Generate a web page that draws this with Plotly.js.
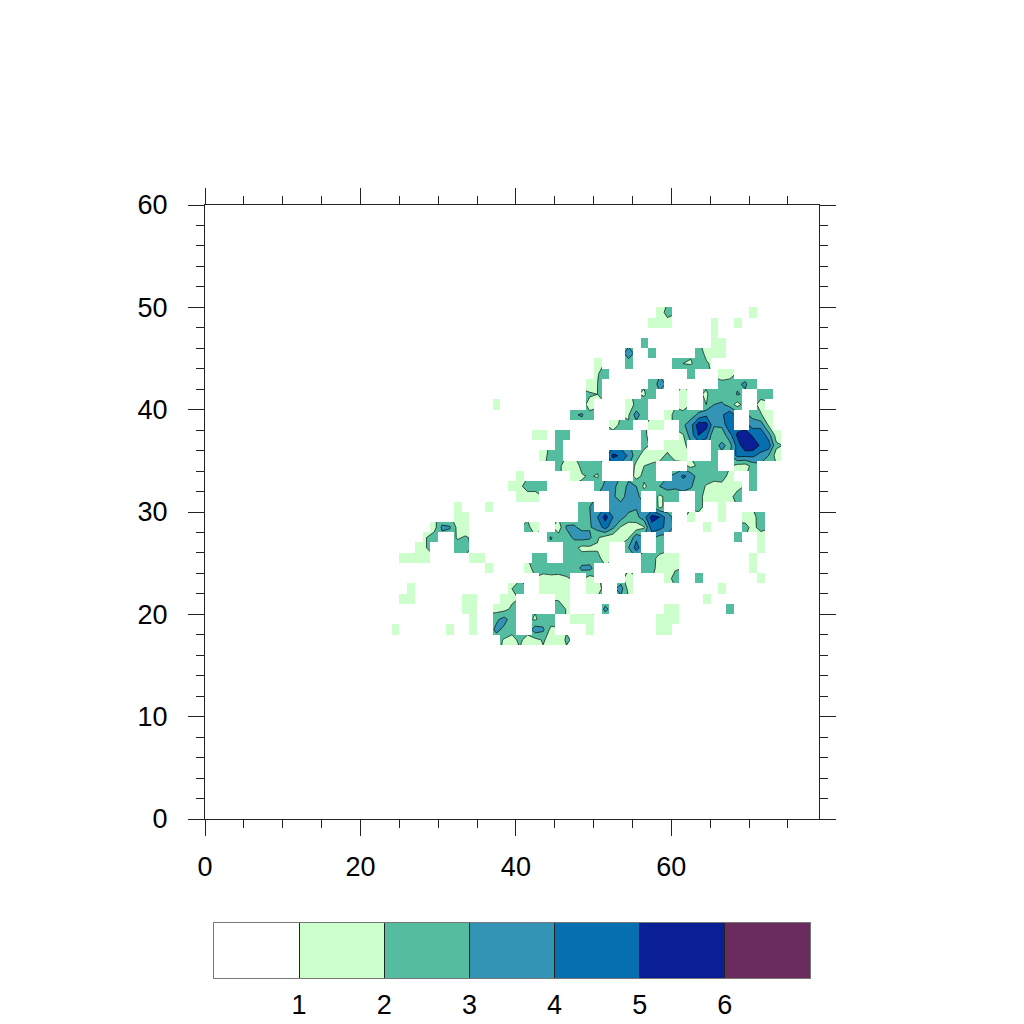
<!DOCTYPE html>
<html><head><meta charset="utf-8">
<script src="https://cdn.plot.ly/plotly-3.0.1.min.js"></script>
<style>html,body{margin:0;padding:0;background:#fff}#p{width:1024px;height:1024px}</style>
</head><body><div id="p"></div>
<script>
// value read per grid cell: {column: value}; absent = missing data
const row49={58:1.6,59:2.3,70:1.4};
const row48={57:1.4,58:1.7,59:1.7,65:1.4,68:1.4};
const row47={65:1.4};
const row46={56:2.8,65:1.9,66:1.4};
const row45={54:3.4,57:2.0,63:2.4,64:1.8,65:1.6,66:1.4};
const row44={50:1.4,54:2.6,60:3.0,61:2.0,62:1.9,63:2.4,64:2.1};
const row43={50:1.9,51:2.6,62:2.9,66:1.5,67:1.5};
const row42={49:1.6,50:2.0,57:2.0,58:3.6,66:2.3,67:2.5,68:2.8,69:3.2,70:2.2};
const row41={49:2.1,50:2.0,56:1.9,57:2.5,61:1.4,64:1.9,65:2.4,66:2.4,67:2.4,68:3.1,71:2.3,72:2.4};
const row40={37:1.4,49:1.7,54:1.6,55:2.2,56:2.4,61:1.4,64:2.0,65:3.0,66:3.2,67:2.5,68:1.6,71:1.7};
const row39={47:2.9,48:3.1,49:2.2,54:1.9,55:3.5,56:2.3,59:1.7,60:2.2,61:2.4,62:2.5,63:3.2,64:3.8,65:3.5,66:3.8,67:4.8,70:2.6,71:2.1,72:1.4};
const row38={52:1.4,53:2.3,54:2.1,57:1.6,58:1.5,61:2.8,62:3.6,63:5.6,64:5.4,65:3.2,66:3.2,67:5.0,70:3.6,71:3.6,72:1.9};
const row37={42:1.5,43:1.5,45:2.4,46:2.1,56:2.1,61:1.9,62:3.5,63:5.0,64:4.4,65:2.0,66:2.4,67:3.6,68:5.2,69:5.9,70:4.8,71:4.8,72:3.5,73:1.6};
const row36={45:2.4,56:2.3,59:1.6,60:1.5,61:1.6,65:2.5,66:3.3,67:2.6,68:4.4,69:5.9,70:5.8,71:4.8,72:4.6,73:2.2};
const row35={43:1.6,44:2.4,45:2.3,52:5.3,53:4.8,54:3.8,55:2.4,56:1.5,57:1.5,58:1.7,59:2.2,60:1.6,61:1.4,65:2.2,68:4.3,69:4.2,70:4.2,71:3.6,72:3.0,73:1.6};
const row34={45:2.2,46:1.6,47:1.4,48:2.3,49:2.6,50:2.3,55:1.7,56:2.0,57:2.2,62:1.7,63:2.2,64:2.0,65:2.2,68:1.6,69:1.5,70:2.4};
const row33={40:1.5,47:1.7,48:1.9,49:2.1,50:1.9,55:1.6,56:2.3,57:2.6,60:3.2,61:4.2,62:3.7,63:2.4,64:2.5,65:2.4,66:2.7,67:1.5,70:2.5};
const row32={39:1.7,40:1.8,41:2.4,42:2.3,43:2.3,50:2.6,51:3.2,52:3.4,53:2.3,54:3.3,55:3.0,56:1.8,57:2.5,58:3.0,59:3.4,60:3.2,61:3.3,62:3.1,63:2.5,64:1.9,65:1.6,66:1.5,67:1.5,68:1.7,70:2.5};
const row31={40:1.5,41:1.6,42:1.7,52:3.3,53:2.1,54:4.0,55:3.2,58:1.8,59:2.3,60:2.4,63:2.3,64:1.7,65:1.6,66:1.6,67:1.7,68:2.4};
const row30={32:1.4,36:1.4,48:2.5,49:3.0,52:3.7,53:3.9,54:3.5,55:3.1,58:1.7,63:2.2,66:1.5};
const row29={32:1.4,33:1.4,48:2.6,49:2.9,50:4.0,51:5.4,52:4.0,53:3.4,54:2.6,55:2.7,56:3.6,57:5.4,58:5.0,59:3.4,62:1.5,66:1.9,69:1.6,70:1.8,71:2.3};
const row28={29:1.6,30:3.2,31:3.1,32:1.7,33:1.5,41:2.2,42:1.6,45:1.5,46:3.1,47:3.1,48:2.8,49:2.9,50:3.4,51:4.4,52:3.2,53:1.9,54:1.4,55:1.4,56:1.9,57:4.6,58:4.4,59:3.6,64:1.5,69:2.3,70:1.7,71:2.4};
const row27={28:2.0,29:2.5,32:1.9,33:2.1,44:3.1,45:2.4,46:2.5,47:3.2,48:3.4,49:3.2,50:2.1,51:1.6,52:1.4,53:1.6,54:1.9,55:3.8,58:2.6,68:2.2,71:1.4};
const row26={27:1.9,28:2.0,32:2.4,33:2.2,46:2.6,47:2.3,48:1.7,49:1.8,50:1.9,51:1.7,54:3.0,55:4.4,58:2.5,71:1.5};
const row25={25:2.0,26:1.9,27:2.0,28:1.7,34:1.7,35:1.9,42:2.4,43:2.3,46:2.4,47:2.6,48:2.5,49:2.4,50:2.2,51:1.7,56:2.6,57:2.3,58:1.7,59:1.6,60:1.7,70:1.5};
const row24={36:1.5,41:1.6,42:2.4,43:2.6,44:2.9,45:2.6,46:2.4,47:2.5,48:3.2,49:3.3,56:2.5,57:2.3,58:1.6,59:1.6,60:1.9,70:1.4};
const row23={43:1.5,44:1.5,45:1.6,46:1.9,49:1.5,54:1.4,59:1.7,60:2.3,63:2.5,71:1.5};
const row22={26:1.5,39:2.0,40:2.2,43:1.9,44:1.5,45:1.5,46:1.9,49:1.5,50:1.7,53:3.5,54:1.6,66:2.0};
const row21={25:1.4,26:1.4,33:1.4,34:1.9,38:2.0,39:1.8,45:1.8,46:1.6,64:1.5};
const row20={33:1.5,34:1.5,37:1.6,38:1.7,39:2.2,45:3.0,46:1.9,51:3.2,59:1.5,60:1.5,67:2.3};
const row19={34:1.5,37:2.8,38:3.4,39:2.4,42:1.9,43:2.4,44:2.6,47:1.6,48:1.9,49:1.6,58:1.5,59:1.5,60:1.5};
const row18={24:1.4,31:1.4,34:1.5,37:3.3,38:2.7,39:2.3,42:3.6,43:3.2,44:1.7,49:1.4,58:1.5,59:1.5};
const row17={38:1.9,39:1.7,40:2.2,41:1.6,42:1.7,43:2.1,44:1.7,45:1.6,46:2.1};
const rowsByY={17:row17,18:row18,19:row19,20:row20,21:row21,22:row22,23:row23,24:row24,25:row25,26:row26,27:row27,28:row28,29:row29,30:row30,31:row31,32:row32,33:row33,34:row34,35:row35,36:row36,37:row37,38:row38,39:row39,40:row40,41:row41,42:row42,43:row43,44:row44,45:row45,46:row46,47:row47,48:row48,49:row49};

const levelColors=['#ffffff','#ccffcc','#54bd9f','#3494b5','#066fb0','#0a1f96','#6a2c5e'];
const barValues=[0.5,1.5,2.5,3.5,4.5,5.5,6.5];
const xTicks=[0,20,40,60], yTicks=[0,10,20,30,40,50,60], barTicks=[1,2,3,4,5,6];

const cols=[],rows=[];
for(let c=20;c<=78;c++)cols.push(c);
for(let r=14;r<=53;r++)rows.push(r);
const xc=cols.map(c=>c+0.5), yc=rows.map(r=>r+0.5);
const z=rows.map(r=>cols.map(c=>{const m=rowsByY[r];return m&&m[c]!==undefined?m[c]:null;}));
const mask=z.map(line=>line.map(v=>v===null?1:null));
const scale=levelColors.map((c,i)=>[i/6,c]);

const font={family:'"Liberation Sans",Arial,sans-serif',size:27,color:'#000'};
const data=[{
  type:'contour',x:xc,y:yc,z:z,connectgaps:true,hoverinfo:'skip',showscale:false,
  autocontour:false,contours:{start:1,end:6,size:1,coloring:'fill',showlines:true},
  line:{color:'#000',width:0.7,smoothing:0},
  zmin:0.5,zmax:6.5,colorscale:scale
},{
  type:'heatmap',xaxis:'x2',yaxis:'y2',x:xc,y:yc,z:mask,zmin:0,zmax:1,showscale:false,hoverinfo:'skip',
  colorscale:[[0,'#fff'],[1,'#fff']]
},{
  type:'heatmap',xaxis:'x3',yaxis:'y3',x:barValues,y:[0],z:[barValues],zmin:0.5,zmax:6.5,showscale:false,hoverinfo:'skip',
  colorscale:scale
}];
const axis={showgrid:false,zeroline:false,showline:true,linecolor:'#222',linewidth:1,mirror:'allticks',
  ticks:'outside',ticklen:16,tickwidth:1,tickcolor:'#222',tickfont:font};
const W=1024;
const layout={width:W,height:W,margin:{l:0,r:0,t:0,b:0},paper_bgcolor:'#fff',plot_bgcolor:'#fff',showlegend:false,
  xaxis:Object.assign({},axis,{domain:[205/W,819/W],anchor:'y',range:[0,79],tickmode:'array',tickvals:xTicks,ticklabelstandoff:8,
    minor:{dtick:5,ticks:'outside',ticklen:8,tickwidth:1,tickcolor:'#222',showgrid:false}}),
  yaxis:Object.assign({},axis,{domain:[1-819/W,1-205/W],anchor:'x',range:[0,60],tickmode:'array',tickvals:yTicks,ticklabelstandoff:15,
    minor:{dtick:2,ticks:'outside',ticklen:8,tickwidth:1,tickcolor:'#222',showgrid:false}}),
  xaxis2:{overlaying:'x',anchor:'y2',range:[0,79],visible:false},
  yaxis2:{overlaying:'y',anchor:'x2',range:[0,60],visible:false},
  xaxis3:{domain:[214/W,810/W],anchor:'y3',range:[0,7],tickmode:'array',tickvals:barTicks,ticks:'inside',ticklen:55,tickwidth:1,tickcolor:'#222',
    showgrid:false,zeroline:false,showline:true,linecolor:'#777',linewidth:1,mirror:true,tickfont:font,ticklabelstandoff:3},
  yaxis3:{domain:[1-978/W,1-923/W],anchor:'x3',range:[-0.5,0.5],showticklabels:false,ticks:'',showgrid:false,zeroline:false,showline:true,linecolor:'#777',linewidth:1,mirror:true}
};
Plotly.newPlot('p',data,layout,{displayModeBar:false,staticPlot:true});
</script></body></html>
